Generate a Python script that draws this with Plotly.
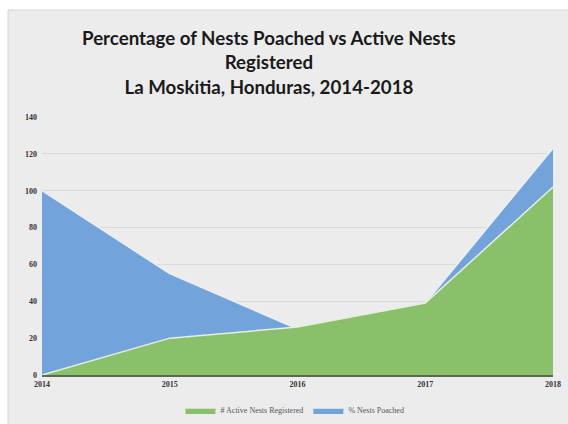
import plotly.graph_objects as go

years = [2014, 2015, 2016, 2017, 2018]
active_nests = [0, 20, 26, 39, 102]
pct_poached = [100, 55, 25, 39, 123]
y_ticks = [0, 20, 40, 60, 80, 100, 120, 140]

fig = go.Figure()
fig.add_trace(go.Scatter(
    x=years, y=pct_poached, name="% Nests Poached", mode="lines",
    fill="tozeroy", fillcolor="#72a3da", line=dict(color="#e8f0f8", width=1.5),
))
fig.add_trace(go.Scatter(
    x=years, y=active_nests, name="# Active Nests Registered", mode="lines",
    fill="tozeroy", fillcolor="#8bc06a", line=dict(color="#e4f0dc", width=1.5),
))

W, H = 568, 424
L, R, T, B = 42, 15, 117, 49
pw, ph = W - L - R, H - T - B

def px(x):
    return (x - L) / pw

def py(y):
    return (H - B - y) / ph

shapes = [
    dict(type="rect", xref="paper", yref="paper", layer="below",
         x0=px(8), x1=px(572), y0=py(428), y1=py(10),
         fillcolor="#ececec", line=dict(color="#d4d4d4", width=1)),
]

fig.update_layout(
    width=W, height=H,
    margin=dict(l=L, r=R, t=T, b=B, autoexpand=False),
    paper_bgcolor="white",
    plot_bgcolor="rgba(0,0,0,0)",
    shapes=shapes,
    showlegend=True,
    legend=dict(orientation="h", xref="container", yref="container",
                x=295 / W, xanchor="center", y=(H - 410) / H, yanchor="middle",
                traceorder="reversed", font=dict(size=8, color="#555555", family="Liberation Serif"),
                bgcolor="rgba(0,0,0,0)", itemwidth=30),
    annotations=[dict(
        text="Percentage of Nests Poached vs Active Nests<br>Registered<br>La Moskitia, Honduras, 2014-2018",
        xref="paper", yref="paper", x=px(269), y=py(62), xanchor="center", yanchor="middle",
        showarrow=False, font=dict(size=18.7, color="#1a1a1a", family="Lato", weight="bold"),
    )],
    font=dict(family="Lato"),
    hovermode=False,
)
fig.update_xaxes(
    range=[2014, 2018], tickvals=years, ticktext=[str(y) for y in years],
    showgrid=False, zeroline=False, showline=True, linecolor="#5a6a50", linewidth=2,
    tickfont=dict(size=8, color="#333333", family="Liberation Serif", weight="bold"),
    ticks="", automargin=False,
)
fig.update_yaxes(
    range=[0, 140], tickvals=y_ticks, showgrid=True, gridcolor="#dadada", gridwidth=1,
    zeroline=False, showline=False,
    tickfont=dict(size=8, color="#333333", family="Liberation Serif", weight="bold"),
    ticks="", automargin=False, ticklabelstandoff=4,
)

fig.write_html("out.html", config={"displayModeBar": False},
               post_script="document.body.style.margin='0';document.body.style.overflow='hidden';")
